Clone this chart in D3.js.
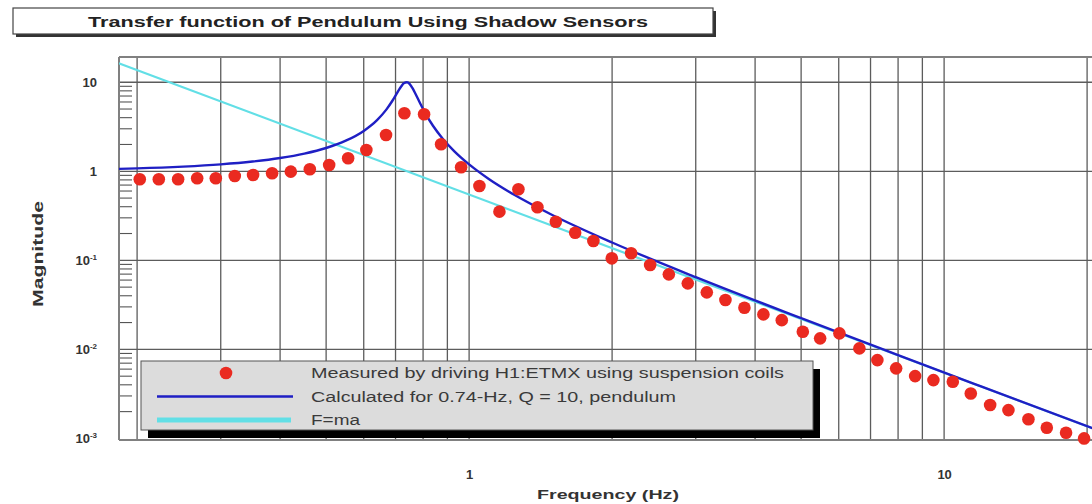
<!DOCTYPE html>
<html>
<head>
<meta charset="utf-8">
<script src="https://cdn.jsdelivr.net/npm/d3@7"></script>
<style>
  html, body { margin: 0; padding: 0; background: #ffffff; }
  svg { display: block; font-family: "Liberation Sans", Arial, Helvetica, sans-serif; }
</style>
</head>
<body>
<svg id="chart" width="1092" height="504"></svg>
<script>
// ---- data ----------------------------------------------------------------
const titleText = "Transfer function of Pendulum Using Shadow Sensors";

// measured response (driving H1:ETMX through the suspension coils)
const measuredFreq = [0.2026, 0.2222, 0.2440, 0.2676, 0.2929, 0.3211, 0.3509, 0.3848, 0.4213, 0.4620,
  0.5074, 0.5563, 0.6077, 0.6685, 0.7307, 0.8039, 0.8730, 0.9620, 1.0512, 1.1583,
  1.2700, 1.3926, 1.5222, 1.6721, 1.8265, 1.9971, 2.1931, 2.4050, 2.6331, 2.8868,
  3.1652, 3.4643, 3.7983, 4.1645, 4.5526, 5.0408, 5.4827, 6.0200, 6.6322, 7.2362,
  7.9250, 8.6897, 9.4949, 10.43, 11.38, 12.50, 13.66, 15.05, 16.45, 18.06, 19.71];
const measuredMag = [0.813, 0.813, 0.813, 0.834, 0.834, 0.885, 0.909, 0.950, 0.990, 1.053,
  1.177, 1.400, 1.735, 2.558, 4.484, 4.369, 2.011, 1.109, 0.684, 0.352,
  0.628, 0.394, 0.2715, 0.2042, 0.1648, 0.1053, 0.1199, 0.0886, 0.0696, 0.0551,
  0.0437, 0.0358, 0.0293, 0.0247, 0.0213, 0.01577, 0.01329, 0.01513, 0.01026, 0.00758,
  0.00612, 0.00501, 0.00452, 0.00433, 0.00320, 0.00237, 0.00208, 0.00164, 0.00132, 0.00116, 0.00100];

// calculated pendulum response, 0.74 Hz, Q = 10
const modelFreq = [0.183, 0.2, 0.25, 0.3, 0.35, 0.4, 0.45, 0.5, 0.55, 0.6,
  0.64, 0.67, 0.69, 0.71, 0.72, 0.73, 0.74, 0.75, 0.76, 0.77,
  0.79, 0.81, 0.84, 0.88, 0.93, 1.0, 1.1, 1.25, 1.5, 2,
  3, 5, 8, 12, 20.6];
const modelMag = [1.065, 1.078, 1.128, 1.195, 1.286, 1.409, 1.580, 1.826, 2.204, 2.841,
  3.753, 4.958, 6.233, 8.028, 9.013, 9.781, 10.0, 9.529, 8.591, 7.523,
  5.688, 4.418, 3.225, 2.321, 1.687, 1.195, 0.8205, 0.5373, 0.3210, 0.1585,
  0.06476, 0.02239, 0.008630, 0.003817, 0.001292];

// free mass (F = ma) asymptote
const fmaFreq = [0.183, 20.6];
const fmaMag = [16.35, 0.00129];

const xTickValues = [1, 10];
const yTickValues = [10, 1, 0.1, 0.01, 0.001];
const yTickLabels = [["10", ""], ["1", ""], ["10", "-1"], ["10", "-2"], ["10", "-3"]];
const legendLabels = [
  "Measured by driving H1:ETMX using suspension coils",
  "Calculated for 0.74-Hz, Q = 10, pendulum",
  "F=ma"
];

// ---- layout --------------------------------------------------------------
const svg = d3.select("#chart");
const plot = { left: 119, top: 57, bottom: 440, right: 1092 };

const xDomain = [0.1832, 20.6];
const x = d3.scaleLog()
  .domain(xDomain)
  .range([plot.left, plot.left + 475 * Math.log10(xDomain[1] / xDomain[0])]);
const y = d3.scaleLog()
  .domain([0.00096, 19.2])
  .range([plot.bottom, plot.top]);

const colors = { measured: "#ea2a20", model: "#1f1fc4", fma: "#62dfe6", grid: "#5c5c5c" };

svg.append("defs").append("clipPath").attr("id", "plotClip")
  .append("rect")
  .attr("x", plot.left).attr("y", plot.top)
  .attr("width", plot.right - plot.left).attr("height", plot.bottom - plot.top);

// ---- title box -----------------------------------------------------------
const title = svg.append("g");
title.append("rect").attr("x", 16).attr("y", 11).attr("width", 700).attr("height", 26).attr("fill", "#333");
title.append("rect").attr("x", 13).attr("y", 8).attr("width", 700).attr("height", 26)
  .attr("fill", "#ffffff").attr("stroke", "#444").attr("stroke-width", 1.2);
title.append("text")
  .attr("x", 368).attr("y", 26.5)
  .attr("text-anchor", "middle")
  .attr("font-size", 15).attr("font-weight", "bold").attr("fill", "#222")
  .attr("textLength", 560).attr("lengthAdjust", "spacingAndGlyphs")
  .text(titleText);

// ---- grid ----------------------------------------------------------------
const xMinor = [];
for (let dec = 0.1; dec <= 10; dec *= 10) {
  for (let k = 1; k <= 9; k++) {
    const v = +(k * dec).toPrecision(3);
    if (v > xDomain[0] && v < xDomain[1]) xMinor.push(v);
  }
}
const grid = svg.append("g");
grid.selectAll("line.vg").data(xMinor).join("line")
  .attr("class", "vg")
  .attr("x1", d => x(d)).attr("x2", d => x(d))
  .attr("y1", plot.top).attr("y2", plot.bottom)
  .attr("stroke", colors.grid).attr("stroke-width", 1.3);
grid.selectAll("line.hg").data(yTickValues.filter(v => v > 0.002)).join("line")
  .attr("class", "hg")
  .attr("x1", plot.left).attr("x2", plot.right)
  .attr("y1", d => y(d)).attr("y2", d => y(d))
  .attr("stroke", colors.grid).attr("stroke-width", 1.3);

// minor ticks along the left edge
const yMinor = [];
[0.001, 0.01, 0.1, 1, 10].forEach(dec => {
  for (let k = 2; k <= 9; k++) {
    const v = k * dec;
    if (v < 19.2) yMinor.push(v);
  }
});
grid.selectAll("line.ym").data(yMinor).join("line")
  .attr("class", "ym")
  .attr("x1", plot.left).attr("x2", plot.left + 13)
  .attr("y1", d => y(d)).attr("y2", d => y(d))
  .attr("stroke", "#555").attr("stroke-width", 1.1);

// frame
grid.append("line").attr("x1", plot.left).attr("x2", plot.right)
  .attr("y1", plot.top).attr("y2", plot.top).attr("stroke", "#808080").attr("stroke-width", 2);
grid.append("line").attr("x1", plot.left).attr("x2", plot.right)
  .attr("y1", plot.bottom).attr("y2", plot.bottom).attr("stroke", "#808080").attr("stroke-width", 2);
grid.append("line").attr("x1", plot.left).attr("x2", plot.left)
  .attr("y1", plot.top).attr("y2", plot.bottom).attr("stroke", "#808080").attr("stroke-width", 2);

// ---- axes ----------------------------------------------------------------
const yAxis = svg.append("g")
  .attr("transform", `translate(${plot.left},0)`)
  .call(d3.axisLeft(y).tickValues(yTickValues).tickSize(0).tickPadding(22));
yAxis.select(".domain").remove();
yAxis.selectAll("text")
  .attr("font-size", 13).attr("font-weight", "bold").attr("fill", "#333")
  .attr("font-family", "Liberation Sans, Arial, sans-serif")
  .each(function (d) {
    const t = d3.select(this).text("");
    const lab = yTickLabels[yTickValues.indexOf(d)];
    t.append("tspan").text(lab[0]);
    if (lab[1]) t.append("tspan").attr("font-size", 8).attr("dy", "-0.6em").text(lab[1]);
  });

const xAxis = svg.append("g")
  .attr("transform", `translate(0,${plot.bottom})`)
  .call(d3.axisBottom(x).tickValues(xTickValues).tickFormat(d3.format("d")).tickSize(0).tickPadding(30));
xAxis.select(".domain").remove();
xAxis.selectAll("text")
  .attr("font-size", 13).attr("font-weight", "bold").attr("fill", "#333")
  .attr("font-family", "Liberation Sans, Arial, sans-serif");

svg.append("text")
  .attr("transform", "translate(43,254) rotate(-90)")
  .attr("text-anchor", "middle")
  .attr("font-size", 14).attr("font-weight", "bold").attr("fill", "#333")
  .attr("textLength", 106).attr("lengthAdjust", "spacingAndGlyphs")
  .text("Magnitude");
svg.append("text")
  .attr("x", 608).attr("y", 499)
  .attr("text-anchor", "middle")
  .attr("font-size", 13).attr("font-weight", "bold").attr("fill", "#333")
  .attr("textLength", 142).attr("lengthAdjust", "spacingAndGlyphs")
  .text("Frequency (Hz)");

// ---- series --------------------------------------------------------------
const line = d3.line().x(d => x(d[0])).y(d => y(d[1])).curve(d3.curveMonotoneX);
const series = svg.append("g").attr("clip-path", "url(#plotClip)");

series.append("path")
  .datum(d3.zip(fmaFreq, fmaMag))
  .attr("d", line)
  .attr("fill", "none").attr("stroke", colors.fma).attr("stroke-width", 2.2);

series.append("path")
  .datum(d3.zip(modelFreq, modelMag))
  .attr("d", line)
  .attr("fill", "none").attr("stroke", colors.model).attr("stroke-width", 2.4)
  .attr("stroke-linejoin", "round");

svg.append("g").selectAll("circle")
  .data(d3.zip(measuredFreq, measuredMag))
  .join("circle")
  .attr("cx", d => x(d[0])).attr("cy", d => y(d[1]))
  .attr("r", 6.3)
  .attr("fill", colors.measured);

// ---- legend --------------------------------------------------------------
const lg = svg.append("g");
lg.append("rect").attr("x", 148).attr("y", 369).attr("width", 672).attr("height", 69).attr("fill", "#000");
lg.append("rect").attr("x", 141).attr("y", 361).attr("width", 672).attr("height", 69)
  .attr("fill", "#dcdcdc").attr("stroke", "#555").attr("stroke-width", 1);

lg.append("circle").attr("cx", 226).attr("cy", 373).attr("r", 6.3).attr("fill", colors.measured);
lg.append("line").attr("x1", 157).attr("x2", 293).attr("y1", 396.5).attr("y2", 396.5)
  .attr("stroke", colors.model).attr("stroke-width", 2.4);
lg.append("line").attr("x1", 157).attr("x2", 291).attr("y1", 420).attr("y2", 420)
  .attr("stroke", colors.fma).attr("stroke-width", 5);

const legendWidths = [473, 365, 49];
lg.selectAll("text.lab").data(legendLabels).join("text")
  .attr("class", "lab")
  .attr("x", 311).attr("y", (d, i) => 378 + i * 23.5)
  .attr("font-size", 14).attr("fill", "#3a3a3a")
  .attr("textLength", (d, i) => legendWidths[i]).attr("lengthAdjust", "spacingAndGlyphs")
  .text(d => d);
</script>
</body>
</html>
